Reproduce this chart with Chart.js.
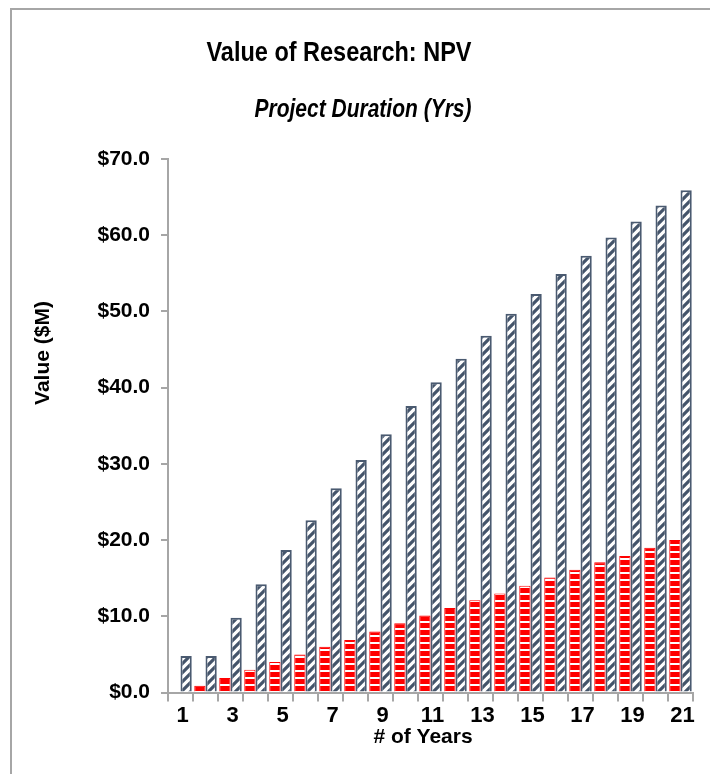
<!DOCTYPE html>
<html><head><meta charset="utf-8">
<script src="https://cdn.jsdelivr.net/npm/chart.js@4"></script>
<style>
html,body{margin:0;padding:0;background:#fff;overflow:hidden}
#frame{position:absolute;left:10px;top:8px;width:760px;height:820px;border-left:2px solid #a6a6a6;border-top:2px solid #a6a6a6}
#c{position:absolute;left:0;top:0}
</style></head><body>
<div id="frame"></div>
<canvas id="c" width="710" height="774"></canvas>
<script>
const years = ['1','2','3','4','5','6','7','8','9','10','11','12','13','14','15','16','17','18','19','20','21'];
const xTickLabels = ['1','','3','','5','','7','','9','','11','','13','','15','','17','','19','','21'];
const yTickLabels = ['$0.0','$10.0','$20.0','$30.0','$40.0','$50.0','$60.0','$70.0'];
const redValues = [0, 0.9, 1.9, 3.0, 4.0, 5.0, 6.0, 6.9, 8.0, 9.1, 10.1, 11.1, 12.1, 13.0, 14.0, 15.1, 16.1, 17.1, 17.9, 19.0, 20.0];
const blueValues = [4.8, 4.8, 9.8, 14.2, 18.7, 22.6, 26.8, 30.5, 33.9, 37.6, 40.7, 43.8, 46.8, 49.7, 52.3, 54.9, 57.3, 59.7, 61.8, 63.9, 65.9];
const titleText = 'Value of Research: NPV';
const subtitleText = 'Project Duration (Yrs)';
const xTitleText = '# of Years';
const yTitleText = 'Value ($M)';

function stripePattern(){
  const c = document.createElement('canvas'); c.width = 8; c.height = 7;
  const g = c.getContext('2d');
  g.fillStyle = '#ffffff'; g.fillRect(0,0,8,7);
  g.fillStyle = '#ff0000'; g.fillRect(0,0,8,5);
  return g.createPattern(c,'repeat');
}
function diagPattern(){
  const s = 9;
  const c = document.createElement('canvas'); c.width = s; c.height = s;
  const g = c.getContext('2d');
  g.fillStyle = '#ffffff'; g.fillRect(0,0,s,s);
  g.strokeStyle = '#44546a'; g.lineWidth = 3.2;
  g.beginPath();
  for (const d of [-s, 0, s]) {
    g.moveTo(-2 + d, s + 2); g.lineTo(s + 2 + d, -2);
  }
  g.stroke();
  return g.createPattern(c,'repeat');
}

const tickFont = (size) => ({family:'"Liberation Sans", Arial, sans-serif', size:size, weight:'bold'});

function scaledText(ctx, text, cx, y, targetWidth){
  const w = ctx.measureText(text).width;
  const k = targetWidth / w;
  ctx.save();
  ctx.translate(cx, y);
  ctx.scale(k, 1);
  ctx.fillText(text, 0, 0);
  ctx.restore();
}

const textPlugin = {
  id:'texts',
  afterDraw(chart){
    const ctx = chart.ctx;
    ctx.save();
    ctx.fillStyle = '#000';
    ctx.textAlign = 'center';
    ctx.textBaseline = 'alphabetic';
    ctx.font = 'bold 28px "Liberation Sans", Arial, sans-serif';
    scaledText(ctx, titleText, 339, 61, 265);
    ctx.font = 'italic bold 25px "Liberation Sans", Arial, sans-serif';
    scaledText(ctx, subtitleText, 363, 117, 217);
    ctx.font = 'bold 21px "Liberation Sans", Arial, sans-serif';
    ctx.fillText(xTitleText, 423, 743);
    ctx.translate(43, 353);
    ctx.rotate(-Math.PI/2);
    ctx.textBaseline = 'middle';
    ctx.fillText(yTitleText, 0, 0);
    ctx.restore();
  }
};

new Chart(document.getElementById('c'), {
  type:'bar',
  data:{
    labels: years,
    datasets:[
      {label:'Series 1', data: redValues, backgroundColor: stripePattern(), borderColor:'#ff0000', borderWidth:1,
       categoryPercentage:0.9, barPercentage:1.0},
      {label:'Series 2', data: blueValues, backgroundColor: diagPattern(), borderColor:'#4a5a70', borderWidth:2,
       categoryPercentage:0.9, barPercentage:1.0}
    ]
  },
  options:{
    responsive:false,
    animation:false,
    layout:{padding:{top:159, right:17, left:0, bottom:0}},
    plugins:{legend:{display:false}, title:{display:false}, tooltip:{enabled:false}},
    scales:{
      x:{
        offset:true,
        grid:{display:true, drawOnChartArea:false, drawTicks:true, tickLength:9, color:'#a6a6a6', lineWidth:2, offset:true},
        border:{display:true, color:'#a6a6a6', width:2},
        ticks:{autoSkip:false, maxRotation:0, minRotation:0, padding:1, labelOffset:2, color:'#000', font:tickFont(22),
               callback:(v,i)=>xTickLabels[i]},
        afterFit(s){ s.height = 81.5; }
      },
      y:{
        min:0, max:70,
        grid:{display:true, drawOnChartArea:false, drawTicks:true, tickLength:7, color:'#a6a6a6', lineWidth:2},
        border:{display:true, color:'#a6a6a6', width:2},
        ticks:{stepSize:10, padding:11, color:'#000', font:tickFont(21), callback:(v,i)=>yTickLabels[i]},
        afterFit(s){ s.width = 168; }
      }
    }
  },
  plugins:[textPlugin]
});
</script>
</body></html>
